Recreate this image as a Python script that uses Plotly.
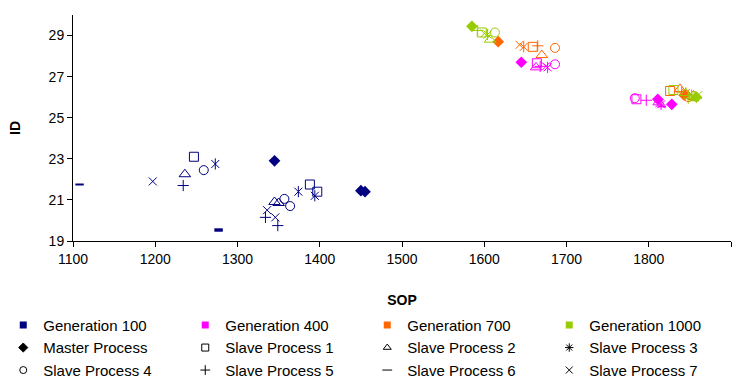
import plotly.graph_objects as go

# SOP / ID results per generation and per process
generations = ["Generation 100", "Generation 400", "Generation 700", "Generation 1000"]
gen_colors = ["#000080", "#FF00FF", "#FF6600", "#99CC00"]
processes = ["Master Process", "Slave Process 1", "Slave Process 2", "Slave Process 3",
             "Slave Process 4", "Slave Process 5", "Slave Process 6", "Slave Process 7"]

gen100_sop = [[1345, 1450, 1455], [1247, 1388, 1397], [1236, 1345, 1350], [1273, 1374, 1394],
              [1259, 1357, 1364], [1234, 1334, 1349], [1108, 1277, 1277], [1197, 1336, 1346]]
gen100_id = [[22.9, 21.45, 21.4], [23.1, 21.75, 21.4], [22.25, 20.9, 20.85], [22.75, 21.4, 21.2],
             [22.45, 21.05, 20.7], [21.7, 20.15, 19.75], [21.75, 19.57, 19.5], [21.9, 20.5, 20.15]]

gen400_sop = [[1645, 1811, 1828], [1664, 1785], [1663, 1812], [1677, 1815],
              [1686, 1783], [1668, 1797], [1816], [1675, 1813]]
gen400_id = [[27.7, 25.9, 25.65], [27.65, 25.9], [27.45, 25.75], [27.45, 25.65],
             [27.6, 25.95], [27.5, 25.85], [25.55], [27.5, 25.7]]

gen700_sop = [[1617, 1843], [1659, 1826], [1670, 1838], [1648, 1845],
              [1686, 1848], [1665, 1840], [1852], [1643, 1850]]
gen700_id = [[28.7, 26.1], [28.45, 26.3], [28.05, 26.4], [28.45, 26.2],
             [28.4, 26.0], [28.5, 26.25], [25.9], [28.55, 26.15]]

gen1000_sop = [[1585, 1858], [1597, 1830], [1607, 1845], [1604, 1852],
               [1613, 1855], [1592, 1848], [1856], [1600, 1860]]
gen1000_id = [[29.45, 26.0], [29.15, 26.35], [28.8, 26.2], [29.05, 26.1],
              [29.15, 26.05], [29.25, 25.95], [25.85], [29.1, 26.1]]

all_sop = [gen100_sop, gen400_sop, gen700_sop, gen1000_sop]
all_id = [gen100_id, gen400_id, gen700_id, gen1000_id]

# marker style per process (the star is drawn as an x with a vertical stroke)
symbols = ["diamond", "square-open", "triangle-up-open", ["x-thin-open", "line-ns-open"],
           "circle-open", "cross-thin-open", "line-ew-open", "x-thin-open"]
legend_symbols = ["diamond", "square-open", "triangle-up-open", "asterisk-open",
                  "circle-open", "cross-thin-open", "line-ew-open", "x-thin-open"]
sizes = [9, 9, 10, 8, 9, 8, 6, 8]
widths = [0, 1, 1, 1, 1, 1, 2, 1]

fig = go.Figure()

for g, color in enumerate(gen_colors):
    for p in range(len(processes)):
        syms = symbols[p] if isinstance(symbols[p], list) else [symbols[p]]
        for s in syms:
            fig.add_trace(go.Scatter(
                x=all_sop[g][p], y=all_id[g][p], mode="markers", showlegend=False,
                marker=dict(symbol=s, size=sizes[p], color=color,
                            line=dict(color=color, width=widths[p])),
                hoverinfo="x+y", name=f"{generations[g]} - {processes[p]}"))

# legend keys: colour per generation, symbol per process
for g, color in enumerate(gen_colors):
    fig.add_trace(go.Scatter(x=[None], y=[None], mode="markers", name=generations[g],
                             marker=dict(symbol="square", size=7, color=color)))
for p, name in enumerate(processes):
    fig.add_trace(go.Scatter(x=[None], y=[None], mode="markers", name=name,
                             marker=dict(symbol=legend_symbols[p], size=7, color="black",
                                         line=dict(color="black", width=1))))

base_font = dict(family="Liberation Sans, Arial, sans-serif", size=14, color="black")
fig.update_layout(
    width=745, height=379,
    margin=dict(l=73, r=14, t=15, b=138, autoexpand=False),
    paper_bgcolor="white", plot_bgcolor="white",
    font=base_font,
    xaxis=dict(range=[1100, 1900], dtick=100, showgrid=False, zeroline=False,
               showline=True, linecolor="black", linewidth=1,
               ticks="outside", ticklen=5, tickcolor="black",
               title=dict(text="<b>SOP</b>", font=dict(size=14), standoff=29)),
    yaxis=dict(range=[19, 30], tick0=19, dtick=2, showgrid=False, zeroline=False,
               showline=True, linecolor="black", linewidth=1,
               ticks="outside", ticklen=5, tickcolor="black",
               title=dict(text="<b>ID</b>", font=dict(size=14), standoff=24)),
    # legend sits under the plot, starting in the left margin, four entries per row
    legend=dict(orientation="h", x=-0.106, xanchor="left", y=-0.30, yanchor="top",
                entrywidth=137, entrywidthmode="pixels", traceorder="normal",
                font=dict(size=15), tracegroupgap=0,
                bgcolor="rgba(0,0,0,0)"),
)

fig.write_html("out.html")
